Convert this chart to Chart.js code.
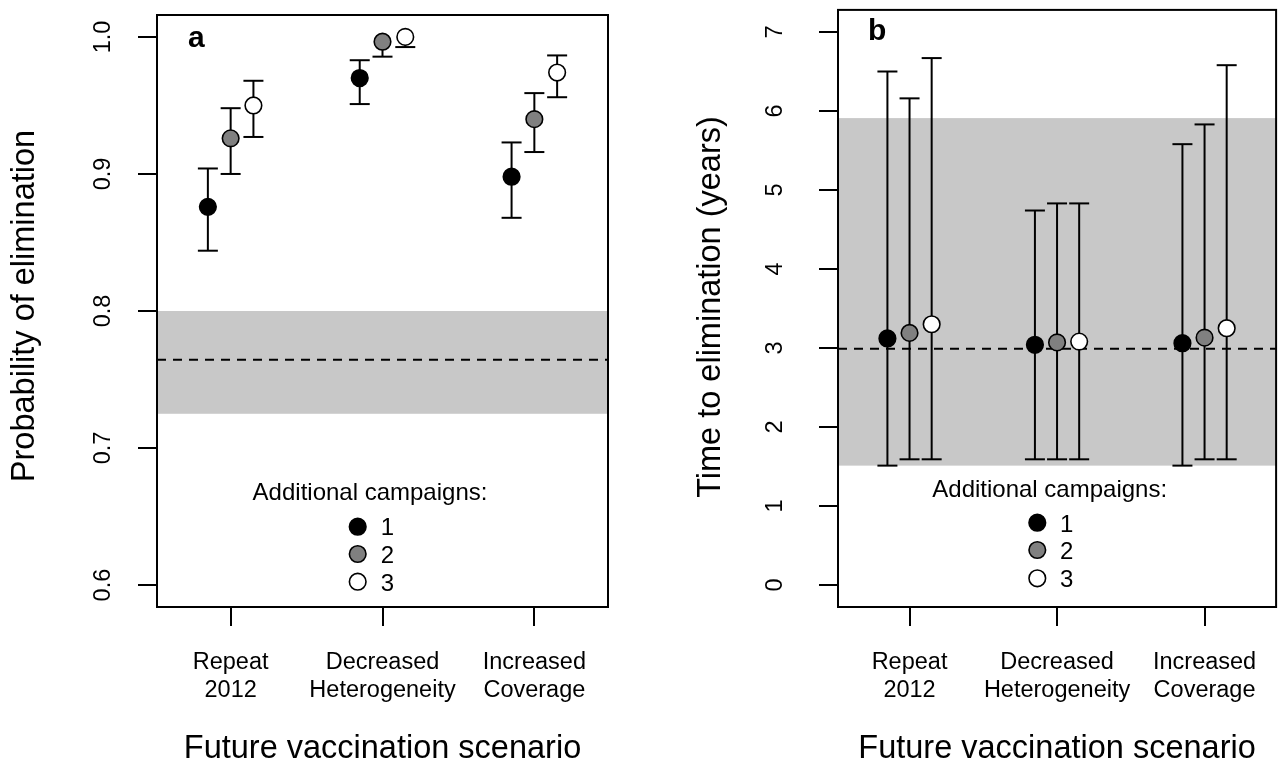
<!DOCTYPE html>
<html><head><meta charset="utf-8">
<script src="https://cdn.jsdelivr.net/npm/chart.js@4.4.0/dist/chart.umd.min.js"></script>
<style>
html,body{margin:0;padding:0;background:#fff;}
#wrap{position:relative;width:1286px;height:765px;overflow:hidden;background:#fff;}
canvas{position:absolute;top:0;}
</style></head><body>
<div id="wrap">
<canvas id="ca" width="643" height="765" style="left:0"></canvas>
<canvas id="cb" width="643" height="765" style="left:643px"></canvas>
</div>
<script>
// ---- data ----
const scenarios = [["Repeat","2012"],["Decreased","Heterogeneity"],["Increased","Coverage"]];
const campaignLabels = ["1","2","3"];

// Panel a: probability of elimination (per scenario, for 1/2/3 additional campaigns)
const probMean1  = [0.876, 0.970, 0.898];
const probLower1 = [0.844, 0.951, 0.868];
const probUpper1 = [0.904, 0.983, 0.923];
const probMean2  = [0.926, 0.9965, 0.940];
const probLower2 = [0.900, 0.9856, 0.916];
const probUpper2 = [0.948, 0.9965, 0.959];
const probMean3  = [0.950, 1.000, 0.974];
const probLower3 = [0.927, 0.9926, 0.956];
const probUpper3 = [0.968, 1.000, 0.9865];
const probBand = [0.725, 0.800];
const probBaseline = 0.7645;
const probTicks = [0.6, 0.7, 0.8, 0.9, 1.0];

// Panel b: time to elimination (years)
const timeMean1  = [3.12, 3.04, 3.06];
const timeLower1 = [1.51, 1.59, 1.51];
const timeUpper1 = [6.50, 4.74, 5.58];
const timeMean2  = [3.19, 3.07, 3.13];
const timeLower2 = [1.59, 1.59, 1.59];
const timeUpper2 = [6.16, 4.83, 5.83];
const timeMean3  = [3.30, 3.08, 3.25];
const timeLower3 = [1.59, 1.59, 1.59];
const timeUpper3 = [6.67, 4.83, 6.58];
const timeBand = [1.51, 5.91];
const timeBaseline = 2.99;
const timeTicks = [0, 1, 2, 3, 4, 5, 6, 7];

// ---- styling / layout ----
const FONT = "'Liberation Sans', Arial, Helvetica, sans-serif";
const fills = ["#000000", "#808080", "#ffffff"];
const offsets = [-0.15, 0, 0.15];
Chart.defaults.font.family = FONT;
Chart.defaults.color = "#000";

function buildChart(id, o) {
  const series = [
    {mean:o.m1, lo:o.l1, hi:o.u1},
    {mean:o.m2, lo:o.l2, hi:o.u2},
    {mean:o.m3, lo:o.l3, hi:o.u3}
  ];
  const datasets = series.map((s,k)=>({
    label: campaignLabels[k],
    data: s.mean.map((m,i)=>({x:i+1+offsets[k], y:m})),
    pointRadius: 8.3, pointHoverRadius: 8.3,
    pointBackgroundColor: fills[k], pointBorderColor: "#000", pointBorderWidth: 1.6,
    showLine: false, clip: false
  }));
  const plugin = {
    id: 'rstyle_' + id,
    beforeDatasetsDraw(chart) {
      const {ctx, chartArea:a, scales:{x, y}} = chart;
      ctx.save();
      const yT = y.getPixelForValue(o.band[1]), yB = y.getPixelForValue(o.band[0]);
      ctx.fillStyle = "#c8c8c8";
      ctx.fillRect(a.left, yT, a.right - a.left, yB - yT);
      ctx.strokeStyle = "#000"; ctx.lineWidth = 2;
      ctx.setLineDash([9, 7]);
      const yb = y.getPixelForValue(o.baseline);
      ctx.beginPath(); ctx.moveTo(a.left, yb); ctx.lineTo(a.right, yb); ctx.stroke();
      ctx.setLineDash([]);
      series.forEach((s,k)=>{
        s.mean.forEach((m,i)=>{
          const px = x.getPixelForValue(i+1+offsets[k]);
          const pm = y.getPixelForValue(m);
          [s.lo[i], s.hi[i]].forEach(v=>{
            if (v === m) return;
            const pv = y.getPixelForValue(v);
            ctx.beginPath(); ctx.moveTo(px, pm); ctx.lineTo(px, pv); ctx.stroke();
            ctx.beginPath(); ctx.moveTo(px-10, pv); ctx.lineTo(px+10, pv); ctx.stroke();
          });
        });
      });
      ctx.restore();
    },
    afterDraw(chart) {
      const {ctx, chartArea:a, scales:{y}} = chart;
      ctx.save();
      ctx.strokeStyle = "#000"; ctx.lineWidth = 2;
      ctx.strokeRect(a.left, a.top, a.right - a.left, a.bottom - a.top);
      ctx.fillStyle = "#000";
      // y tick labels (rotated like R's las=0)
      ctx.font = "23.5px " + FONT;
      ctx.textAlign = "center"; ctx.textBaseline = "alphabetic";
      o.ticks.forEach(v=>{
        const py = y.getPixelForValue(v);
        ctx.save(); ctx.translate(o.yTickX, py); ctx.rotate(-Math.PI/2);
        ctx.fillText(o.tickFmt(v), 0, 0); ctx.restore();
      });
      // y title
      ctx.font = "32.5px " + FONT;
      ctx.save(); ctx.translate(o.yTitleX, o.yTitleY); ctx.rotate(-Math.PI/2);
      ctx.fillText(o.yTitle, 0, 0); ctx.restore();
      // x title
      ctx.fillText("Future vaccination scenario", (a.left + a.right)/2, 758);
      // panel letter
      ctx.font = "bold 30px " + FONT; ctx.textAlign = "left";
      ctx.fillText(o.letter, o.letterX, o.letterY);
      // legend
      ctx.font = "24px " + FONT; ctx.textAlign = "center";
      ctx.fillText("Additional campaigns:", o.leg.titleX, o.leg.titleY);
      ctx.textAlign = "left";
      campaignLabels.forEach((lab,k)=>{
        ctx.beginPath(); ctx.arc(o.leg.dotX, o.leg.dotY[k], 8.3, 0, Math.PI*2);
        ctx.fillStyle = fills[k]; ctx.fill();
        ctx.lineWidth = 1.6; ctx.strokeStyle = "#000"; ctx.stroke();
        ctx.fillStyle = "#000";
        ctx.fillText(lab, o.leg.labX, o.leg.labY[k]);
      });
      ctx.restore();
    }
  };
  return new Chart(document.getElementById(id), {
    type: 'scatter',
    data: { datasets },
    plugins: [plugin],
    options: {
      responsive: false, animation: false, devicePixelRatio: 1,
      layout: { padding: { top: o.padTop, right: o.padRight, left: 0, bottom: 0 } },
      plugins: { legend: { display: false }, tooltip: { enabled: false } },
      scales: {
        x: {
          type: 'linear', min: 0.515, max: 3.485,
          afterBuildTicks: s => { s.ticks = [1,2,3].map(v=>({value:v})); },
          afterFit: s => { s.height = 158; },
          border: { display: false },
          grid: { drawOnChartArea: false, drawTicks: true, tickLength: 19, color: "#000", lineWidth: 2 },
          ticks: {
            autoSkip: false, maxRotation: 0, minRotation: 0, padding: 22,
            font: { size: 23.5, lineHeight: 1.2, family: FONT }, color: "#000",
            callback: v => scenarios[Math.round(v) - 1]
          }
        },
        y: {
          type: 'linear', min: o.yMin, max: o.yMax,
          afterBuildTicks: s => { s.ticks = o.ticks.map(v=>({value:v})); },
          afterFit: s => { s.width = o.yWidth; },
          border: { display: false },
          grid: { drawOnChartArea: false, drawTicks: true, tickLength: 19, color: "#000", lineWidth: 2 },
          ticks: { display: false }
        }
      }
    }
  });
}

buildChart('ca', {
  m1: probMean1, l1: probLower1, u1: probUpper1,
  m2: probMean2, l2: probLower2, u2: probUpper2,
  m3: probMean3, l3: probLower3, u3: probUpper3,
  band: probBand, baseline: probBaseline, ticks: probTicks,
  tickFmt: v => v.toFixed(1),
  yMin: 0.584, yMax: 1.016, yWidth: 157, padTop: 15, padRight: 35,
  yTickX: 110, yTitle: "Probability of elimination", yTitleX: 34, yTitleY: 306,
  letter: "a", letterX: 188, letterY: 46.5,
  leg: { titleX: 370, titleY: 500, dotX: 357.7, dotY: [526.7, 554, 581.7], labX: 380.7, labY: [535, 562.5, 590.5] }
});
buildChart('cb', {
  m1: timeMean1, l1: timeLower1, u1: timeUpper1,
  m2: timeMean2, l2: timeLower2, u2: timeUpper2,
  m3: timeMean3, l3: timeLower3, u3: timeUpper3,
  band: timeBand, baseline: timeBaseline, ticks: timeTicks,
  tickFmt: v => String(v),
  yMin: -0.28, yMax: 7.28, yWidth: 195, padTop: 6, padRight: 4,
  yTickX: 139, yTitle: "Time to elimination (years)", yTitleX: 77, yTitleY: 307,
  letter: "b", letterX: 225, letterY: 40,
  leg: { titleX: 406.7, titleY: 496.7, dotX: 394.3, dotY: [522.7, 550, 578.3], labX: 417, labY: [531.5, 559, 587] }
});
</script>
</body></html>
